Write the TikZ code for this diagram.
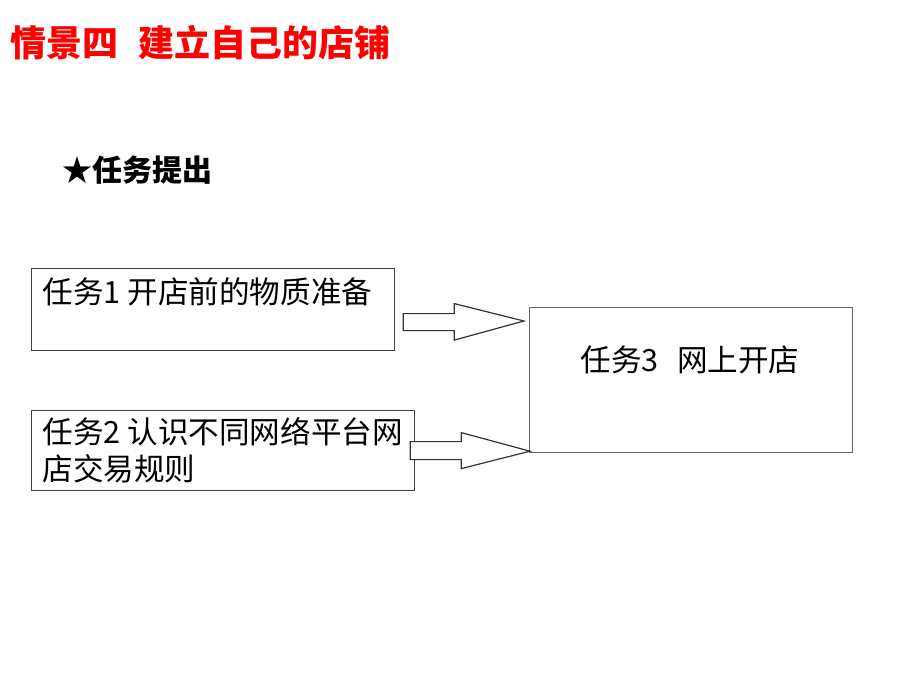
\documentclass[tikz,border=0pt]{standalone}
\usepackage{fontspec}
\usepackage{tikz}
\usetikzlibrary{calc}
\setmainfont{Noto Sans CJK SC}
\newfontfamily\cjk{Noto Sans CJK SC}

\begin{document}
\begin{tikzpicture}[x=0.5pt, y=-0.5pt,
    taskbox/.style={draw=black!75, line width=0.6pt, inner sep=0pt, anchor=north west},
    tasktext/.style={font=\cjk\fontsize{15.3pt}{18.5pt}\selectfont, inner sep=0pt, anchor=west, align=left},
    blockarrow/.style={draw=black!80, line width=0.6pt, fill=white, line join=miter}]

    \useasboundingbox (0,0) rectangle (920,690);

    % title
    \node[anchor=west, inner sep=0pt, text=red, font=\cjk\bfseries\fontsize{18pt}{20pt}\selectfont] (title) at (10,43)
        {情景四\hspace{0.55em}建立自己的店铺};
    \node[anchor=west, inner sep=0pt, font=\cjk\bfseries\fontsize{15pt}{18pt}\selectfont] (intro) at (62,170)
        {★任务提出};

    % task boxes
    \node[taskbox, minimum width=181.5pt, minimum height=41pt] (box1) at (31,268) {};
    \node[taskbox, minimum width=191.5pt, minimum height=40pt] (box2) at (31,410) {};
    \node[taskbox, draw=black!60, minimum width=161.5pt, minimum height=72.5pt] (box3) at (529,307) {};

    % box labels
    \node[tasktext] (text1) at (42,292) {任务1 开店前的物质准备};
    \node[tasktext, anchor=north west] (text2) at (42,417) {任务2 认识不同网络平台网\\店交易规则};
    \node[tasktext, anchor=center] (text3) at (690,360) {任务3\hspace{0.6em}网上开店};

    % arrow 1: box1 -> box3
    \coordinate (A1) at ($(box1.east)+(8,12.5)$);
    \coordinate (A1tip) at ($(box3.north west)+(-5,14)$);
    \draw[blockarrow]
        ($(A1)+(0,-8.5)$) -- ($(A1)+(51,-8.5)$) -- ($(A1)+(51,-18.5)$) -- (A1tip)
        -- ($(A1)+(51,18)$) -- ($(A1)+(51,8.5)$) -- ($(A1)+(0,8.5)$) -- cycle;

    % arrow 2: box2 -> box3
    \coordinate (A2) at ($(box2.east)+(-5,0)$);
    \coordinate (A2tip) at ($(box3.south west)+(1,-2)$);
    \draw[blockarrow]
        ($(A2)+(0,-9)$) -- ($(A2)+(51,-9)$) -- ($(A2)+(51,-18)$) -- (A2tip)
        -- ($(A2)+(51,18)$) -- ($(A2)+(51,9)$) -- ($(A2)+(0,9)$) -- cycle;

\end{tikzpicture}
\end{document}
